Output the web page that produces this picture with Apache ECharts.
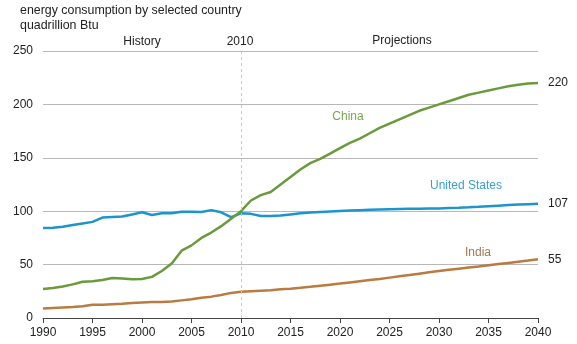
<!DOCTYPE html>
<html><head><meta charset="utf-8">
<script src="https://cdn.jsdelivr.net/npm/echarts@6/dist/echarts.min.js"></script>
<style>html,body{margin:0;padding:0;background:#fff}#c{width:577px;height:344px}</style>
</head><body><div id="c"></div>
<script>
const years = [1990,1991,1992,1993,1994,1995,1996,1997,1998,1999,2000,2001,2002,2003,2004,2005,2006,2007,2008,2009,2010,2011,2012,2013,2014,2015,2016,2017,2018,2019,2020,2021,2022,2023,2024,2025,2026,2027,2028,2029,2030,2031,2032,2033,2034,2035,2036,2037,2038,2039,2040];
const china = [27.2,28,29.5,31.5,34,34.5,35.5,37.5,37,36.3,36.5,38.5,44,51,63,68,75,80,86,93,100,110,115,118,125,132,139,145,149,154,159,164,168,173,178,182,186,190,194,197,200,203,206,209,211,213,215,217,218.5,219.5,220];
const us = [84.3,84.5,85.5,87,88.5,90,94,94.5,95,97,99,96.5,98,98,99.5,99.5,99.3,101,99,94.5,98,97.5,95.5,95.5,96,97,98,98.7,99.3,99.8,100.2,100.6,101,101.3,101.6,101.9,102.1,102.3,102.4,102.5,102.6,102.9,103.2,103.6,104.1,104.7,105.2,105.7,106.2,106.6,107];
const india = [8.8,9.3,9.8,10.3,11,12.5,12.3,12.8,13.3,14,14.5,15,15,15.5,16.5,17.5,19,20,21.5,23.5,24.5,25,25.5,26,27,27.5,28.3,29.2,30.2,31.2,32.2,33.3,34.4,35.5,36.6,37.8,39,40.2,41.5,42.8,44,45.1,46.2,47.3,48.3,49.4,50.5,51.6,52.7,53.8,55];
const seriesNames = ['China','United States','India'];
const seriesData = [china, us, india];
const colors = ['#6a9a3b','#1d94cc','#b97b3f'];
const labelColors = ['#78a64c','#3a9fd2','#a57850'];

const chart = echarts.init(document.getElementById('c'));
const font = 'Liberation Sans, Arial, sans-serif';
chart.setOption({
  animation:false,
  textStyle:{fontFamily:font},
  grid:{left:43,right:39,top:51,bottom:26},
  xAxis:{type:'value',min:1990,max:2040,interval:5,
    axisLine:{show:true,lineStyle:{color:'#444',width:1}},
    axisTick:{show:true,length:5,lineStyle:{color:'#444'}},
    axisLabel:{color:'#222',fontSize:12,margin:9,fontFamily:font,formatter:v=>String(v)},
    splitLine:{show:false}},
  yAxis:{type:'value',min:0,max:250,interval:50,
    axisLine:{show:false},axisTick:{show:false},
    axisLabel:{color:'#222',fontSize:12,margin:10,fontFamily:font},
    splitLine:{show:true,lineStyle:{color:'#b8b8b8',width:1}}},
  series: seriesNames.map((n,i)=>({
    name:n,type:'line',showSymbol:false,smooth:false,
    data: years.map((y,k)=>[y,seriesData[i][k]]),
    lineStyle:{color:colors[i],width:2.5},
    itemStyle:{color:colors[i]},
    z: i===0?3:2,
    endLabel:{show:true,formatter:p=>Math.round(p.value[1]),color:'#222',fontSize:12,fontFamily:font,distance:10},
    markLine: i===0 ? {silent:true,symbol:'none',label:{show:false},
      lineStyle:{color:'#c8c8c8',type:[3,3],width:1},
      data:[[{coord:[2010,0]},{coord:[2010,250]}]]} : undefined
  })),
  graphic:[
    {type:'text',left:20,top:5,style:{text:'energy consumption by selected country',fontSize:12.4,fill:'#222',fontFamily:font}},
    {type:'text',left:20,top:20,style:{text:'quadrillion Btu',fontSize:12.4,fill:'#222',fontFamily:font}},
    {type:'text',x:142,y:42,style:{text:'History',fontSize:12,fill:'#222',align:'center',verticalAlign:'middle',fontFamily:font}},
    {type:'text',x:240,y:42,style:{text:'2010',fontSize:12,fill:'#222',align:'center',verticalAlign:'middle',fontFamily:font}},
    {type:'text',x:402,y:41,style:{text:'Projections',fontSize:12,fill:'#222',align:'center',verticalAlign:'middle',fontFamily:font}},
    {type:'text',x:348,y:117,style:{text:'China',fontSize:12,fill:labelColors[0],align:'center',verticalAlign:'middle',fontFamily:font}},
    {type:'text',x:466,y:186,style:{text:'United States',fontSize:12,fill:labelColors[1],align:'center',verticalAlign:'middle',fontFamily:font}},
    {type:'text',x:478,y:253,style:{text:'India',fontSize:12,fill:labelColors[2],align:'center',verticalAlign:'middle',fontFamily:font}}
  ]
});
</script></body></html>
